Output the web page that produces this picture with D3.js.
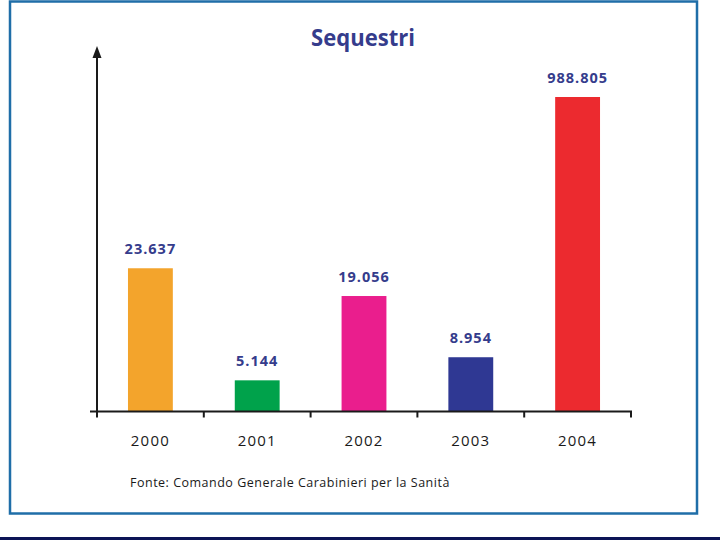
<!DOCTYPE html>
<html lang="it">
<head>
    <meta charset="UTF-8">
    <title>Sequestri</title>
    <style>
        body { margin: 0; background: #fff; }
        svg { display: block; }
    </style>
</head>
<body>
    <div id="wrapper"></div>
    <script src="https://d3js.org/d3.v7.min.js"></script>
    <script>
        // dati
        const years = ['2000', '2001', '2002', '2003', '2004'];
        const values = [23637, 5144, 19056, 8954, 988805];
        const valueLabels = ['23.637', '5.144', '19.056', '8.954', '988.805'];
        const barColors = ['#f3a42c', '#00a24b', '#ea1e8d', '#2f3893', '#ec2a2f'];

        const width = 720, height = 540;
        const svg = d3.select('#wrapper').append('svg')
            .attr('width', width)
            .attr('height', height);

        // cornice blu
        svg.append('rect')
            .attr('x', 10).attr('y', 1.5)
            .attr('width', 687).attr('height', 512)
            .attr('fill', 'none')
            .attr('stroke', '#1f6ea8')
            .attr('stroke-width', 2.5);

        // fascia in basso
        svg.append('rect')
            .attr('x', 0).attr('y', 537)
            .attr('width', width).attr('height', 3)
            .attr('fill', '#0c1456');

        const x0 = 97, x1 = 631, base = 411.5;

        const x = d3.scaleBand()
            .domain(years)
            .range([x0, x1])
            .paddingInner(0.58)
            .paddingOuter(0.29);

        // scala con interruzione: il valore 2004 non è in proporzione
        const y = d3.scaleLinear()
            .domain([0, 25000, 988805])
            .range([base, 260, 97]);

        const font = '"Open Sans", "Noto Sans", sans-serif';

        // titolo
        svg.append('text')
            .attr('x', 363).attr('y', 46)
            .attr('text-anchor', 'middle')
            .attr('fill', '#353c8c')
            .style('font-family', font)
            .style('font-weight', 'bold')
            .style('font-size', '24px')
            .attr('transform', 'translate(363,0) scale(0.92,1) translate(-363,0)')
            .text('Sequestri');

        // barre
        svg.append('g').selectAll('rect')
            .data(values)
            .join('rect')
            .attr('x', (d, i) => x(years[i]))
            .attr('y', d => y(d))
            .attr('width', x.bandwidth())
            .attr('height', d => base - y(d))
            .attr('fill', (d, i) => barColors[i]);

        // etichette valori
        svg.append('g').selectAll('text')
            .data(values)
            .join('text')
            .attr('x', (d, i) => x(years[i]) + x.bandwidth() / 2)
            .attr('y', d => y(d) - 14)
            .attr('text-anchor', 'middle')
            .attr('fill', '#353c8c')
            .style('font-family', font)
            .style('font-weight', 'bold')
            .style('font-size', '14.5px')
            .style('letter-spacing', '1px')
            .text((d, i) => valueLabels[i]);

        // asse x
        const xAxis = svg.append('g');
        xAxis.append('line')
            .attr('x1', x0 - 7).attr('x2', x1 + 1)
            .attr('y1', base).attr('y2', base)
            .attr('stroke', '#1a1a1a').attr('stroke-width', 2);

        const tickPos = years.map(d => x(d) - x.step() * x.paddingOuter());
        tickPos.push(x1);
        xAxis.selectAll('.tick')
            .data(tickPos)
            .join('line')
            .attr('class', 'tick')
            .attr('x1', d => d).attr('x2', d => d)
            .attr('y1', base).attr('y2', base + 6)
            .attr('stroke', '#1a1a1a').attr('stroke-width', 2);

        xAxis.selectAll('.year')
            .data(years)
            .join('text')
            .attr('class', 'year')
            .attr('x', d => x(d) + x.bandwidth() / 2)
            .attr('y', 446)
            .attr('text-anchor', 'middle')
            .attr('fill', '#1a1a1a')
            .style('font-family', font)
            .style('font-size', '15px')
            .style('letter-spacing', '1.2px')
            .text(d => d);

        // asse y con freccia
        svg.append('line')
            .attr('x1', x0).attr('x2', x0)
            .attr('y1', base).attr('y2', 54)
            .attr('stroke', '#1a1a1a').attr('stroke-width', 2);
        svg.append('path')
            .attr('d', `M${x0},46 L${x0 - 4.5},58 L${x0 + 4.5},58 Z`)
            .attr('fill', '#1a1a1a');

        // fonte
        svg.append('text')
            .attr('x', 130).attr('y', 487)
            .attr('fill', '#1a1a1a')
            .style('font-family', font)
            .style('font-size', '12.5px')
            .style('letter-spacing', '0.5px')
            .text('Fonte: Comando Generale Carabinieri per la Sanità');
    </script>
</body>
</html>
